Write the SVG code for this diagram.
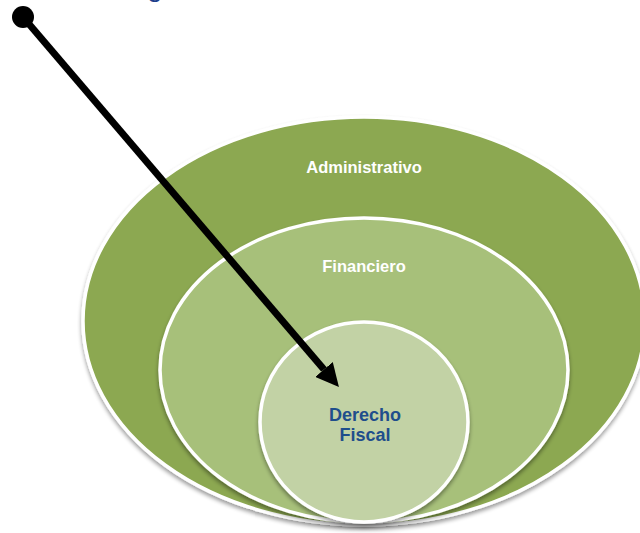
<svg xmlns="http://www.w3.org/2000/svg" width="640" height="533" viewBox="0 0 640 533">
<style>
.ring{stroke:#ffffff;stroke-width:3.5;filter:url(#sh)}
.lbl{font-family:"Liberation Sans",Arial,sans-serif;font-weight:bold;text-anchor:middle}
.w{fill:#ffffff;font-size:16.5px}
.b{fill:#1F4E8C;font-size:18px}
</style>
<defs>
<filter id="sh" x="-10%" y="-10%" width="120%" height="125%">
<feGaussianBlur in="SourceAlpha" stdDeviation="2"/>
<feOffset dx="0" dy="3" result="o"/>
<feComponentTransfer><feFuncA type="linear" slope="0.4"/></feComponentTransfer>
<feMerge><feMergeNode/><feMergeNode in="SourceGraphic"/></feMerge>
</filter>
<marker id="ah" markerUnits="userSpaceOnUse" viewBox="0 0 23 23" markerWidth="23" markerHeight="23" refX="0" refY="11.5" orient="auto">
<path d="M0,0 L23,11.5 L0,23 z" fill="#000000"/>
</marker>
</defs>
<text x="147" y="-4" style="font-family:'Liberation Sans',Arial,sans-serif;font-size:28px;fill:#1F3F8C">g</text>
<g id="administrativo">
<ellipse class="ring" cx="364" cy="321" rx="281" ry="204" fill="#8CA851"/>
<text class="lbl w" x="364" y="173">Administrativo</text>
</g>
<g id="financiero">
<ellipse class="ring" cx="364" cy="370" rx="204" ry="152" fill="#A7C07A"/>
<text class="lbl w" x="364" y="272">Financiero</text>
</g>
<g id="derecho-fiscal">
<ellipse class="ring" cx="364" cy="422" rx="104" ry="100" fill="#C2D2A5"/>
<text class="lbl b" x="365" y="421">Derecho</text>
<text class="lbl b" x="365" y="441">Fiscal</text>
</g>
<g id="connectors">
<circle cx="23" cy="17" r="11" fill="#000000"/>
<line x1="23" y1="17" x2="324" y2="369.5" stroke="#000000" stroke-width="7" marker-end="url(#ah)"/>
</g>
</svg>
